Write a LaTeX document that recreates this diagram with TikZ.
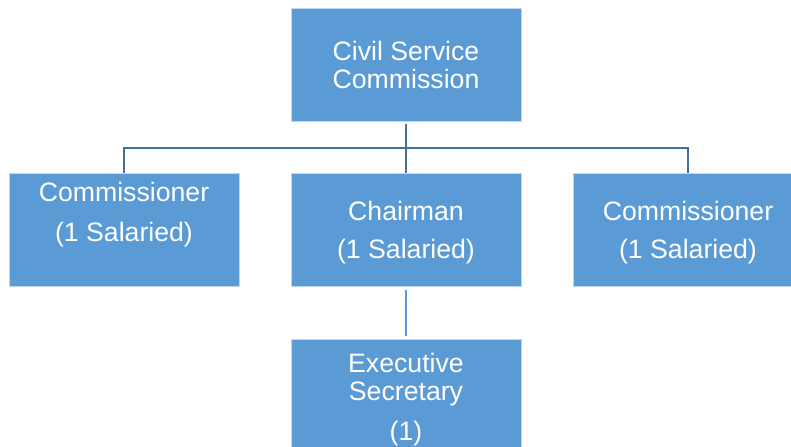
\documentclass[tikz,border=0pt]{standalone}
\usepackage{fontspec}
\setmainfont{Liberation Sans}
\definecolor{unitblue}{RGB}{91,155,213}
\definecolor{linkblue}{RGB}{65,113,156}
\tikzset{every picture/.style={line width=0.75pt}}
\tikzset{
  unit/.style={fill=unitblue, draw=white!60!unitblue, line width=0.5pt, minimum width=172.5pt, minimum height=84.75pt, inner sep=0pt},
  caption/.style={text=white, align=center, font=\fontsize{20}{21}\selectfont, inner sep=0.75pt},
  link/.style={draw=linkblue, line width=1.5pt}
}

\begin{document}
\begin{tikzpicture}[x=0.75pt,y=0.75pt,yscale=-1,xscale=1]
\useasboundingbox (0,0) rectangle (791,446);
\clip (0,0) rectangle (791,446);

%Shape: Rectangle [commission]
\node[unit] (csc) at (406,64.5) {};
%Shape: Rectangle [left commissioner]
\node[unit] (comL) at (124,230) {};
%Shape: Rectangle [chairman]
\node[unit] (chair) at (406,230) {};
%Shape: Rectangle [right commissioner]
\node[unit] (comR) at (688,230) {};
%Shape: Rectangle [secretary]
\node[unit] (exec) at (406,395.5) {};

%Straight Lines [tree]
\coordinate (bus) at (406,147.5);
\draw[link, shorten <=2pt] (csc.south) -- (bus);
\draw[link] (comL.north) |- (bus) -| (comR.north);
\draw[link] (bus) -- (chair.north);
\draw[link, draw=unitblue, shorten <=2pt, shorten >=2pt] (chair.south) -- (exec.north);

% Text Node
\node[caption] (csctxt) at (406,64.5) {Civil Service\\Commission};
% Text Node
\node[caption] (comLtxt) at (124,215) {Commissioner\\[9pt](1 Salaried)};
% Text Node
\node[caption] (chairtxt) at (406,233) {Chairman\\[7.5pt](1 Salaried)};
% Text Node
\node[caption] (comRtxt) at (688,233) {Commissioner\\[7.5pt](1 Salaried)};
% Text Node
\node[caption] (exectxt) at (406,399.5) {Executive\\Secretary\\[9pt](1)};

\end{tikzpicture}
\end{document}
